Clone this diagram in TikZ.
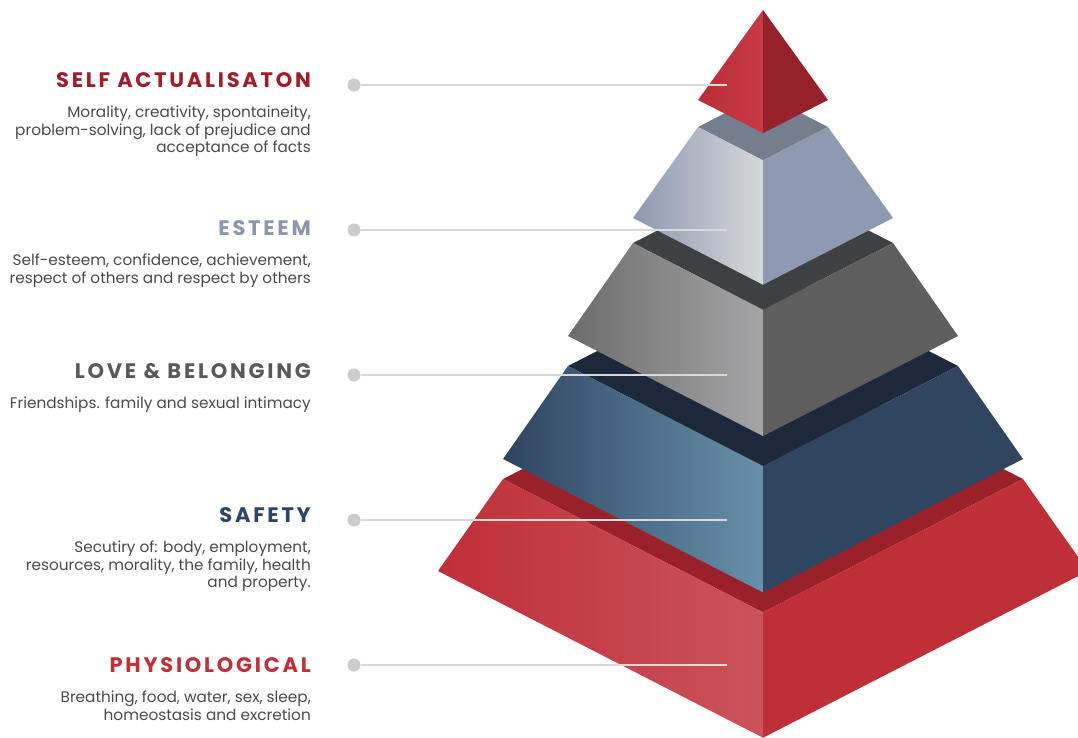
\documentclass[tikz,border=0pt]{standalone}
\usepackage{fontspec}
\setmainfont{Poppins}
\newfontfamily\headfont[LetterSpace=13]{Poppins}
\usetikzlibrary{positioning}

\definecolor{selfred}{HTML}{9E1F2B}
\definecolor{esteemgray}{HTML}{8C97AB}
\definecolor{lovegray}{HTML}{5A5A5A}
\definecolor{safetyblue}{HTML}{2F4562}
\definecolor{physred}{HTML}{C0303A}
\definecolor{capgray}{HTML}{4A4A4A}

% pyramid faces: lid, left face (outer / inner), right face
\definecolor{apexA}{HTML}{B82E38}
\definecolor{apexB}{HTML}{C83A45}
\definecolor{apexside}{HTML}{95222A}
\definecolor{estlid}{HTML}{747E8C}
\definecolor{estA}{HTML}{8D99B0}
\definecolor{estB}{HTML}{D6D7D9}
\definecolor{estside}{HTML}{8E9AB0}
\definecolor{lovelid}{HTML}{3E4143}
\definecolor{loveA}{HTML}{6C6C6C}
\definecolor{loveB}{HTML}{A5A5A7}
\definecolor{loveside}{HTML}{5E5E5E}
\definecolor{safelid}{HTML}{1D293A}
\definecolor{safeA}{HTML}{2F4461}
\definecolor{safeB}{HTML}{6890AA}
\definecolor{safeside}{HTML}{30455F}
\definecolor{physlid}{HTML}{9A2129}
\definecolor{physA}{HTML}{BF2F39}
\definecolor{physB}{HTML}{CA535B}
\definecolor{physside}{HTML}{BE2F37}

\begin{document}
\begin{tikzpicture}[x=1pt,y=-1pt]
    \tikzstyle{dot}=[circle,fill=gray!40,minimum size=13pt,inner sep=0pt]
    \tikzstyle{leader}=[draw=gray!30,line width=1.4pt]
    \tikzstyle{heading}=[anchor=east,inner sep=0pt,font=\headfont\bfseries\fontsize{21}{24}\selectfont]
    \tikzstyle{caption}=[anchor=north east,align=right,inner sep=0pt,text=capgray,font=\fontsize{15.3}{17.5}\selectfont]

    \clip (0,0) rectangle (1078,737);

    % layers from the bottom up: top half-width/y, bottom half-width/y, colours
    \foreach \tw/\ty/\bw/\by/\lidc/\facea/\faceb/\sidec in {
            260/479/325/571/physlid/physA/physB/physside,
            195/366/260/459/safelid/safeA/safeB/safeside,
            130/243/195/336/lovelid/loveA/loveB/loveside,
            65/127/130/218/estlid/estA/estB/estside}
    {
        \fill[\lidc] ({763-\tw},\ty) -- (763,{\ty-0.513*\tw}) -- ({763+\tw},\ty) -- (763,{\ty+0.513*\tw}) -- cycle;
        \shade[left color=\facea,middle color=\facea!70!\faceb,right color=\faceb] ({763-\tw},\ty) -- (763,{\ty+0.513*\tw}) -- (763,{\by+0.513*\bw}) -- ({763-\bw},\by) -- cycle;
        \fill[\sidec] (763,{\ty+0.513*\tw}) -- ({763+\tw},\ty) -- ({763+\bw},\by) -- (763,{\by+0.513*\bw}) -- cycle;
    }

    % the tip
    \shade[left color=apexA,right color=apexB] (698,100) -- (763,10) -- (763,133) -- cycle;
    \fill[apexside] (763,10) -- (828,100) -- (763,133) -- cycle;

    \foreach \n/\y/\hy/\col/\head/\body in {
            1/85/80/selfred/SELF ACTUALISATON/{Morality, creativity, spontaineity,\\problem-solving, lack of prejudice and\\acceptance of facts},
            2/230/228/esteemgray/ESTEEM/{Self-esteem, confidence, achievement,\\respect of others and respect by others},
            3/375/371/lovegray/LOVE \& BELONGING/{Friendships. family and sexual intimacy},
            4/520/515/safetyblue/SAFETY/{Secutiry of: body, employment,\\resources, morality, the family, health\\and property.},
            5/665/665/physred/PHYSIOLOGICAL/{Breathing, food, water, sex, sleep,\\homeostasis and excretion}}
    {
        \node[dot] (dot-\n) at (354,\y) {};
        \coordinate (end-\n) at (727,\y);
        \draw[leader] (dot-\n) -- (end-\n);
        \node[heading,text=\col] (head-\n) at (311,\hy) {\head};
        \node[caption] (body-\n) at ([yshift=-18pt]head-\n.south east) {\body};
    }
\end{tikzpicture}
\end{document}
